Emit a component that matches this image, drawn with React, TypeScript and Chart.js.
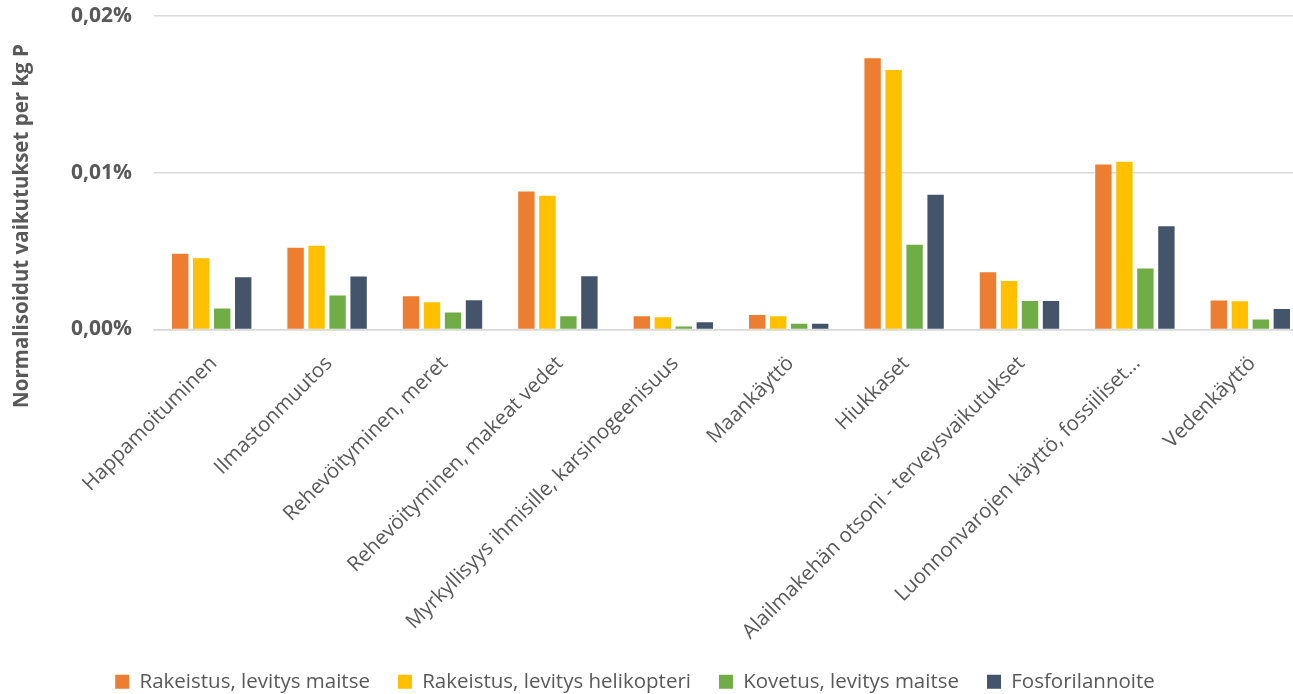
import React, { useEffect, useRef } from "react";
import { Chart, registerables } from "chart.js";

Chart.register(...registerables);

const categories = [
  "Happamoituminen",
  "Ilmastonmuutos",
  "Rehevöityminen, meret",
  "Rehevöityminen, makeat vedet",
  "Myrkyllisyys ihmisille, karsinogeenisuus",
  "Maankäyttö",
  "Hiukkaset",
  "Alailmakehän otsoni - terveysvaikutukset",
  "Luonnonvarojen käyttö, fossiiliset…",
  "Vedenkäyttö",
];

const seriesNames = [
  "Rakeistus, levitys maitse",
  "Rakeistus, levitys helikopteri",
  "Kovetus, levitys maitse",
  "Fosforilannoite",
];

// values in percent
const rakeistusMaitse = [0.00484, 0.00522, 0.00212, 0.00881, 0.00085, 0.00093, 0.0173, 0.00365, 0.01053, 0.00185];
const rakeistusHelikopteri = [0.00454, 0.00535, 0.00174, 0.00853, 0.00078, 0.00085, 0.01656, 0.0031, 0.0107, 0.0018];
const kovetusMaitse = [0.00134, 0.00217, 0.00108, 0.00085, 0.00019, 0.00036, 0.00541, 0.00182, 0.00389, 0.00064];
const fosforilannoite = [0.00333, 0.00338, 0.00187, 0.0034, 0.00047, 0.00036, 0.0086, 0.00182, 0.00658, 0.00131];

const colors = ["#ED7D31", "#FFC000", "#70AD47", "#44546A"];
const yTicks = [0, 0.01, 0.02];
const yTitle = "Normalisoidut vaikutukset per kg P";

const TEXT = "#595959";
const FONT = "'Open Sans', sans-serif";

export default function App() {
  const ref = useRef<HTMLCanvasElement | null>(null);

  useEffect(() => {
    document.body.style.margin = "0";
    const ctx = ref.current!;
    const titlePlugin = {
      id: "yTitle",
      afterLayout(chart: any) {
        const lg = chart.legend;
        if (lg) {
          lg.left -= 19;
          lg.right -= 19;
        }
      },
      afterDraw(chart: any) {
        const c = chart.ctx;
        c.save();
        c.translate(22, 226);
        c.rotate(-Math.PI / 2);
        c.font = `bold 20.5px ${FONT}`;
        c.fillStyle = TEXT;
        c.textAlign = "center";
        c.textBaseline = "middle";
        c.fillText(yTitle, 0, 0);
        c.restore();
      },
    };
    const seriesData = [rakeistusMaitse, rakeistusHelikopteri, kovetusMaitse, fosforilannoite];
    const chart = new Chart(ctx, {
      type: "bar",
      data: {
        labels: categories,
        datasets: seriesNames.map((n, i) => ({
          label: n,
          data: seriesData[i],
          backgroundColor: colors[i],
          borderWidth: 0,
          barPercentage: 0.78,
          categoryPercentage: 0.728,
        })),
      },
      options: {
        animation: false,
        responsive: true,
        maintainAspectRatio: false,
        layout: { padding: { left: 0, right: 2, top: 16, bottom: -8 } },
        plugins: {
          legend: {
            position: "bottom",
            labels: {
              boxWidth: 14,
              boxHeight: 14,
              padding: 28,
              color: TEXT,
              font: { family: FONT, size: 20.5 },
            },
          },
          tooltip: { enabled: false },
        },
        scales: {
          x: {
            grid: { display: false },
            border: { color: "#D9D9D9", width: 1.5 },
            afterFit(scale: any) {
              scale.height = 314;
              scale.paddingTop = 0;
              scale.paddingBottom = 0;
            },
            ticks: {
              autoSkip: false,
              minRotation: 45,
              maxRotation: 45,
              color: TEXT,
              font: { family: FONT, size: 20.5 },
              padding: 14,
              labelOffset: 2,
            },
          },
          y: {
            min: 0,
            max: 0.02,
            afterFit(scale: any) {
              scale.width = 154;
              scale.paddingTop = 0;
              scale.paddingBottom = 0;
            },
            afterBuildTicks(scale: any) {
              scale.ticks = yTicks.map((v) => ({ value: v }));
            },
            grid: { color: "#D9D9D9", lineWidth: 1.5, drawTicks: false },
            border: { display: false },
            ticks: {
              padding: 22,
              color: TEXT,
              font: { family: FONT, size: 21, weight: "bold" },
              callback: (v: any) => Number(v).toFixed(2).replace(".", ",") + "%",
            },
          },
        },
      },
      plugins: [titlePlugin],
    });
    return () => chart.destroy();
  }, []);

  return (
    <div style={{ position: "absolute", left: 0, top: 0, width: 1293, height: 694, overflow: "hidden" }}>
      <div style={{ position: "absolute", left: 0, top: 0, width: 1310, height: 694 }}>
        <canvas ref={ref} />
      </div>
    </div>
  );
}
